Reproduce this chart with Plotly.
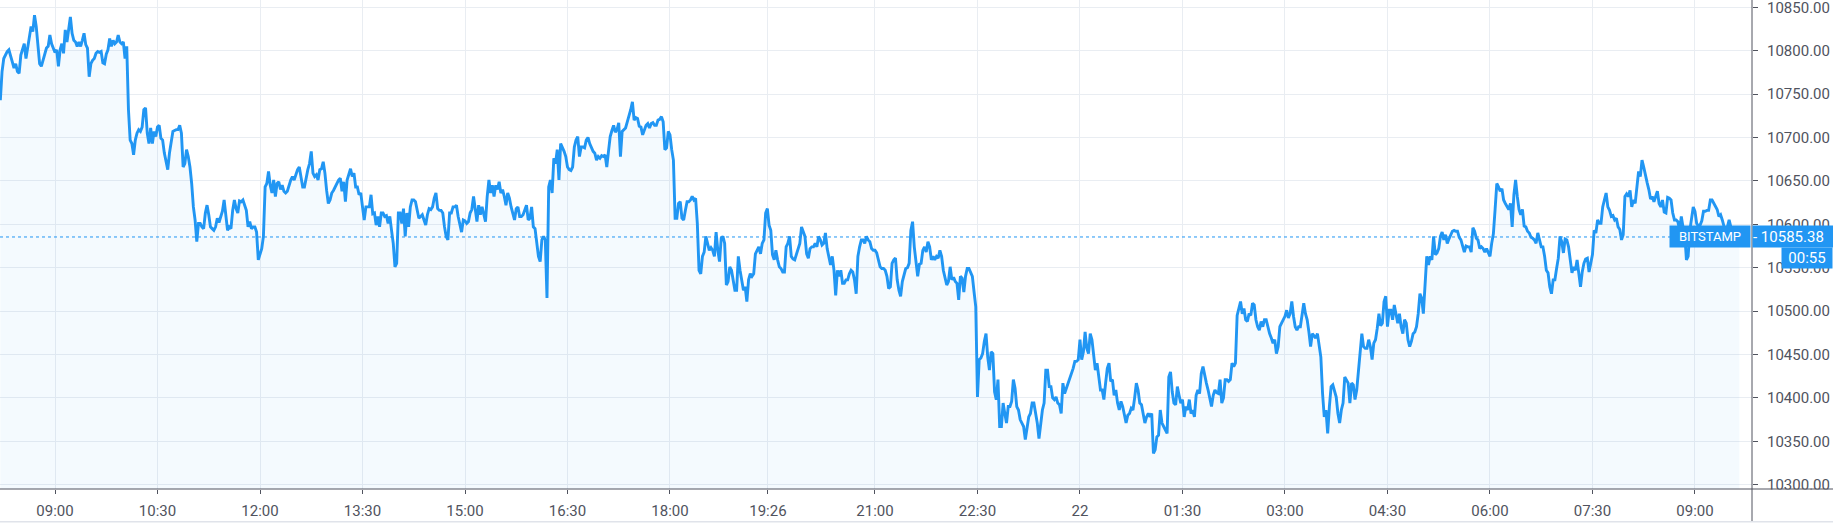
import pandas as pd
import plotly.graph_objects as go

# ---------------- data ----------------
start_time = "2019-07-21 08:12"
step = "90s"

prices = [
    10743, 10776, 10791, 10795, 10799, 10801, 10795, 10787, 10780, 10785,
    10776, 10774, 10795, 10801, 10808, 10791, 10803, 10812, 10828, 10822,
    10841, 10828, 10805, 10785, 10782, 10789, 10793, 10803, 10805, 10818,
    10808, 10803, 10798, 10801, 10782, 10801, 10808, 10797, 10824, 10810,
    10822, 10839, 10820, 10812, 10810, 10805, 10810, 10805, 10812, 10820,
    10807, 10803, 10770, 10785, 10789, 10791, 10797, 10799, 10798, 10799,
    10786, 10785, 10796, 10801, 10814, 10805, 10812, 10808, 10810, 10818,
    10810, 10808, 10810, 10791, 10805, 10732, 10697, 10693, 10680, 10697,
    10705, 10709, 10707, 10712, 10732, 10734, 10705, 10693, 10711, 10693,
    10707, 10701, 10712, 10714, 10699, 10697, 10682, 10670, 10663, 10682,
    10697, 10707, 10708, 10709, 10709, 10714, 10705, 10666, 10670, 10686,
    10678, 10666, 10647, 10620, 10605, 10580, 10601, 10601, 10597, 10595,
    10613, 10622, 10611, 10597, 10595, 10593, 10597, 10607, 10602, 10609,
    10615, 10628, 10609, 10593, 10597, 10595, 10616, 10628, 10618, 10613,
    10627, 10626, 10628, 10622, 10616, 10597, 10603, 10595, 10597, 10597,
    10591, 10559, 10567, 10572, 10586, 10643, 10647, 10661, 10645, 10636,
    10651, 10632, 10647, 10649, 10640, 10645, 10638, 10636, 10638, 10645,
    10651, 10655, 10651, 10657, 10663, 10666, 10655, 10643, 10643, 10655,
    10663, 10670, 10684, 10659, 10655, 10657, 10651, 10663, 10664, 10672,
    10659, 10639, 10624, 10628, 10636, 10639, 10643, 10647, 10651, 10653,
    10638, 10649, 10626, 10651, 10659, 10664, 10655, 10659, 10643, 10643,
    10634, 10636, 10620, 10605, 10620, 10620, 10620, 10634, 10612, 10613,
    10599, 10609, 10597, 10613, 10613, 10609, 10610, 10601, 10609, 10593,
    10578, 10551, 10555, 10613, 10613, 10601, 10618, 10586, 10613, 10597,
    10620, 10628, 10628, 10626, 10616, 10607, 10609, 10611, 10605, 10599,
    10611, 10618, 10617, 10620, 10630, 10636, 10618, 10616, 10616, 10613,
    10597, 10586, 10582, 10613, 10613, 10620, 10620, 10622, 10609, 10601,
    10591, 10605, 10604, 10601, 10603, 10613, 10617, 10632, 10615, 10603,
    10622, 10611, 10620, 10613, 10603, 10632, 10651, 10636, 10645, 10632,
    10645, 10640, 10649, 10636, 10640, 10632, 10622, 10636, 10630, 10620,
    10611, 10605, 10618, 10620, 10609, 10609, 10611, 10618, 10622, 10605,
    10607, 10620, 10597, 10595, 10580, 10563, 10557, 10582, 10586, 10582,
    10515, 10643, 10651, 10636, 10676, 10670, 10686, 10651, 10693, 10689,
    10684, 10678, 10666, 10663, 10662, 10666, 10689, 10697, 10701, 10678,
    10689, 10689, 10688, 10697, 10700, 10693, 10688, 10684, 10682, 10674,
    10678, 10676, 10679, 10678, 10680, 10666, 10684, 10701, 10708, 10714,
    10706, 10709, 10717, 10678, 10707, 10709, 10711, 10718, 10724, 10732,
    10741, 10720, 10723, 10722, 10713, 10712, 10703, 10709, 10714, 10716,
    10711, 10716, 10717, 10714, 10714, 10720, 10721, 10724, 10718, 10686,
    10688, 10707, 10703, 10686, 10674, 10607, 10607, 10624, 10626, 10607,
    10605, 10616, 10626, 10626, 10628, 10632, 10628, 10630, 10601, 10547,
    10543, 10563, 10568, 10586, 10576, 10570, 10573, 10570, 10563, 10591,
    10570, 10557, 10584, 10586, 10578, 10530, 10534, 10551, 10547, 10536,
    10524, 10524, 10563, 10547, 10534, 10524, 10528, 10511, 10536, 10543,
    10540, 10543, 10566, 10570, 10574, 10566, 10578, 10582, 10613, 10618,
    10599, 10593, 10565, 10559, 10570, 10559, 10551, 10549, 10545, 10545,
    10574, 10578, 10586, 10563, 10560, 10559, 10565, 10570, 10578, 10597,
    10592, 10586, 10566, 10561, 10572, 10574, 10574, 10578, 10574, 10586,
    10582, 10576, 10578, 10590, 10572, 10563, 10553, 10563, 10547, 10518,
    10547, 10540, 10547, 10532, 10532, 10536, 10536, 10543, 10547, 10545,
    10536, 10520, 10563, 10574, 10582, 10582, 10578, 10586, 10582, 10580,
    10572, 10570, 10570, 10567, 10557, 10551, 10549, 10549, 10547, 10540,
    10526, 10528, 10555, 10559, 10561, 10536, 10524, 10517, 10534, 10543,
    10549, 10550, 10555, 10593, 10603, 10574, 10559, 10540, 10554, 10555,
    10570, 10574, 10568, 10580, 10574, 10559, 10563, 10559, 10563, 10561,
    10570, 10563, 10547, 10538, 10530, 10534, 10551, 10536, 10539, 10534,
    10532, 10513, 10540, 10538, 10522, 10540, 10549, 10549, 10544, 10540,
    10522, 10505, 10401, 10444, 10446, 10451, 10465, 10474, 10447, 10432,
    10453, 10451, 10407, 10398, 10421, 10367, 10367, 10394, 10382, 10371,
    10390, 10390, 10396, 10421, 10411, 10390, 10386, 10375, 10371, 10367,
    10352, 10367, 10378, 10382, 10394, 10394, 10384, 10371, 10353, 10371,
    10386, 10394, 10432, 10432, 10413, 10413, 10400, 10398, 10401, 10394,
    10392, 10382, 10417, 10405, 10411, 10417, 10421, 10428, 10434, 10442,
    10442, 10444, 10467, 10444, 10453, 10476, 10457, 10451, 10474, 10467,
    10447, 10432, 10440, 10424, 10409, 10409, 10398, 10417, 10434, 10440,
    10419, 10421, 10403, 10409, 10394, 10386, 10396, 10390, 10378, 10371,
    10380, 10382, 10388, 10386, 10400, 10417, 10409, 10394, 10392, 10382,
    10371, 10378, 10382, 10378, 10382, 10336, 10340, 10355, 10357, 10386,
    10371, 10367, 10363, 10359, 10424, 10430, 10407, 10394, 10392, 10413,
    10403, 10394, 10398, 10378, 10390, 10386, 10398, 10382, 10386, 10378,
    10403, 10409, 10405, 10428, 10436, 10424, 10417, 10409, 10400, 10390,
    10403, 10409, 10406, 10405, 10421, 10394, 10400, 10421, 10421, 10419,
    10421, 10440, 10436, 10440, 10495, 10505, 10511, 10497, 10503, 10490,
    10488, 10497, 10495, 10509, 10507, 10490, 10482, 10478, 10488, 10482,
    10490, 10490, 10480, 10474, 10469, 10463, 10467, 10451, 10459, 10482,
    10486, 10490, 10494, 10501, 10492, 10497, 10511, 10494, 10482, 10478,
    10482, 10482, 10494, 10509, 10497, 10490, 10476, 10459, 10474, 10471,
    10469, 10474, 10457, 10447, 10405, 10378, 10386, 10359, 10390, 10413,
    10415, 10409, 10401, 10382, 10371, 10386, 10394, 10424, 10421, 10417,
    10394, 10417, 10415, 10398, 10409, 10432, 10449, 10474, 10459, 10457,
    10457, 10467, 10459, 10444, 10463, 10467, 10480, 10497, 10483, 10486,
    10511, 10517, 10482, 10501, 10501, 10490, 10507, 10497, 10486, 10497,
    10482, 10474, 10490, 10486, 10467, 10459, 10465, 10474, 10476, 10482,
    10497, 10520, 10515, 10497, 10536, 10563, 10553, 10563, 10559, 10586,
    10565, 10567, 10572, 10586, 10591, 10582, 10588, 10578, 10583, 10588,
    10592, 10593, 10592, 10592, 10585, 10582, 10574, 10568, 10575, 10574,
    10574, 10568, 10596, 10592, 10584, 10582, 10572, 10574, 10572, 10568,
    10572, 10567, 10563, 10578, 10589, 10617, 10647, 10643, 10638, 10641,
    10628, 10624, 10620, 10617, 10624, 10597, 10634, 10651, 10632, 10617,
    10611, 10617, 10598, 10597, 10592, 10590, 10585, 10584, 10582, 10578,
    10590, 10582, 10574, 10574, 10563, 10547, 10544, 10528, 10520, 10536,
    10536, 10549, 10561, 10586, 10580, 10567, 10583, 10582, 10574, 10559,
    10544, 10551, 10547, 10559, 10545, 10528, 10545, 10555, 10560, 10561,
    10545, 10555, 10565, 10593, 10590, 10605, 10601, 10601, 10620, 10628,
    10636, 10620, 10616, 10609, 10610, 10605, 10607, 10597, 10594, 10582,
    10588, 10632, 10635, 10632, 10639, 10620, 10628, 10624, 10647, 10661,
    10655, 10674, 10666, 10655, 10648, 10640, 10629, 10632, 10626, 10632,
    10638, 10624, 10620, 10628, 10614, 10613, 10631, 10630, 10628, 10613,
    10605, 10605, 10603, 10593, 10609, 10597, 10590, 10559, 10563, 10593,
    10605, 10620, 10615, 10601, 10598, 10599, 10604, 10615, 10615, 10616,
    10616, 10628, 10628, 10624, 10620, 10617, 10609, 10611, 10605, 10597,
    10590, 10597, 10605, 10597, 10590, 10593, 10576, 10590, 10585.38,
]

tick_times = [
    "2019-07-21 09:00", "2019-07-21 10:30", "2019-07-21 12:00", "2019-07-21 13:30",
    "2019-07-21 15:00", "2019-07-21 16:30", "2019-07-21 18:00", "2019-07-21 19:26",
    "2019-07-21 21:00", "2019-07-21 22:30", "2019-07-22 00:00", "2019-07-22 01:30",
    "2019-07-22 03:00", "2019-07-22 04:30", "2019-07-22 06:00", "2019-07-22 07:30",
    "2019-07-22 09:00",
]
tick_labels = ["09:00", "10:30", "12:00", "13:30", "15:00", "16:30", "18:00", "19:26",
               "21:00", "22:30", "22", "01:30", "03:00", "04:30", "06:00", "07:30", "09:00"]

x_range = ["2019-07-21 08:11:42", "2019-07-22 09:50:05"]
y_range = [10295.0, 10858.4]

last_price = 10585.38
exchange = "BITSTAMP"
countdown = "00:55"

# ---------------- figure ----------------
W, H = 1833, 526
ML, MR, MT, MB = 0, 81, 0, 37
PW = W - ML - MR
PH = H - MT - MB

BLUE = "#2196f3"
AXIS = "#50535e"
GRID = "#e9edf2"
FONT = "Roboto, Liberation Sans, Arial, sans-serif"

times = pd.date_range(start_time, periods=len(prices), freq=step)

fig = go.Figure()
fig.add_trace(go.Scatter(
    x=times, y=prices, mode="lines",
    line=dict(color=BLUE, width=2.9),
    fill="tozeroy", fillcolor="rgba(33,150,243,0.05)",
    hoverinfo="skip",
))

fig.update_layout(
    width=W, height=H,
    margin=dict(l=ML, r=MR, t=MT, b=MB),
    paper_bgcolor="white", plot_bgcolor="white",
    showlegend=False,
    font=dict(family=FONT, size=15, color=AXIS),
)

fig.update_xaxes(
    range=x_range, tickvals=tick_times, ticktext=tick_labels,
    showgrid=True, gridcolor=GRID, gridwidth=1,
    ticks="outside", ticklen=4, tickcolor=AXIS,
    showline=False, zeroline=False,
    ticklabelstandoff=4, ticklabeloverflow="allow",
)
fig.update_yaxes(
    range=y_range, side="right", tick0=10300, dtick=50, tickformat=".2f",
    showgrid=True, gridcolor=GRID, gridwidth=1,
    ticks="outside", ticklen=5, tickcolor=AXIS,
    showline=False, zeroline=False,
    ticklabelstandoff=6, ticklabeloverflow="allow",
)

bottom_line_y = -32.7 / PH
right_edge = (W - ML) / PW

shapes = [
    # dotted last-price line
    dict(type="line", xref="paper", yref="y", x0=0, x1=1, y0=last_price, y1=last_price,
         line=dict(color=BLUE, width=1, dash="dot"), layer="above"),
    # white mask under the price scale (cuts the lowest label)
    dict(type="rect", xref="paper", yref="paper", x0=1.0, x1=right_edge + 0.01,
         y0=bottom_line_y - 0.01, y1=-0.001, fillcolor="white", line=dict(width=0), layer="above"),
    # time axis line across the full width
    dict(type="line", xref="paper", yref="paper", x0=0, x1=right_edge, y0=0, y1=0,
         line=dict(color=AXIS, width=1), layer="above"),
    # price axis line
    dict(type="line", xref="paper", yref="paper", x0=1, x1=1, y0=bottom_line_y, y1=1,
         line=dict(color=AXIS, width=1), layer="above"),
    # bottom border
    dict(type="line", xref="paper", yref="paper", x0=0, x1=right_edge,
         y0=bottom_line_y, y1=bottom_line_y,
         line=dict(color="#e0e3ea", width=1.5), layer="above"),
]
fig.update_layout(shapes=shapes)

annotations = [
    dict(xref="paper", yref="y", x=1750.7 / PW, y=last_price, xanchor="right", yanchor="middle",
         text=exchange, showarrow=False, bgcolor=BLUE, borderpad=0, width=80, height=21,
         align="center", valign="middle", font=dict(color="white", size=13, family=FONT)),
    dict(xref="paper", yref="y", x=1.0, y=last_price, xanchor="left", yanchor="middle",
         text="- " + f"{last_price:.2f}", showarrow=False, bgcolor=BLUE, borderpad=0,
         width=81, height=21, align="left", valign="middle",
         font=dict(color="white", size=15, family=FONT)),
    dict(xref="paper", yref="paper", x=right_edge, y=1 - 247.3 / PH, xanchor="right", yanchor="top",
         text=countdown, showarrow=False, bgcolor=BLUE, borderpad=0, width=50, height=20,
         align="center", valign="middle", font=dict(color="white", size=15, family=FONT)),
]
fig.update_layout(annotations=annotations)

fig.write_html(
    "out.html",
    config={"displayModeBar": False},
    post_script="document.body.style.margin='0';document.body.style.overflow='hidden';",
)
